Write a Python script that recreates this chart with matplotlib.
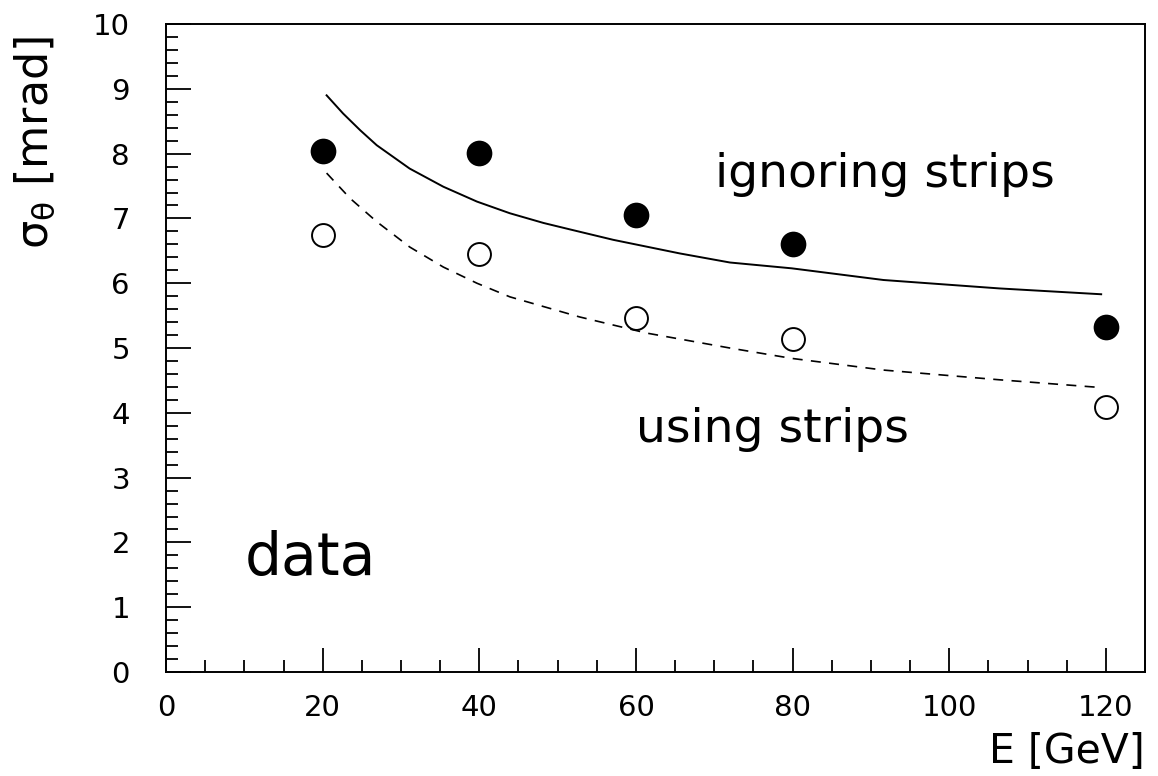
import matplotlib
matplotlib.use("Agg")
import matplotlib.pyplot as plt
from matplotlib.ticker import MultipleLocator

plt.rcParams['font.family'] = ['DejaVu Sans']

# measured points
energy = [20, 40, 60, 80, 120]
sigma_ignoring = [8.04, 8.01, 7.05, 6.60, 5.33]
sigma_using = [6.74, 6.45, 5.47, 5.14, 4.09]

# curves
curve_ign_E = [20.5, 22.6, 24.8, 26.9, 31.1, 35.4, 39.7, 43.9, 48.2, 51.6, 57.1, 65.6,
               72.0, 79.9, 91.6, 106.4, 119.4]
curve_ign_s = [8.90, 8.62, 8.36, 8.13, 7.77, 7.49, 7.26, 7.08, 6.93, 6.83, 6.67, 6.46,
               6.32, 6.23, 6.05, 5.92, 5.83]
curve_use_E = [20.5, 23.5, 26.9, 31.1, 35.4, 39.7, 43.9, 48.2, 52.8, 61.4, 72.0, 79.9,
               91.6, 106.4, 119.4]
curve_use_s = [7.70, 7.31, 6.95, 6.56, 6.25, 6.00, 5.79, 5.64, 5.48, 5.23, 5.00, 4.84,
               4.66, 4.51, 4.39]

xticks = [0, 20, 40, 60, 80, 100, 120]
yticks = list(range(0, 11))

fig = plt.figure(figsize=(11.58, 7.76), dpi=100)
ax = fig.add_axes([0.1434, 0.134, 0.8454, 0.835])

ax.plot(curve_ign_E, curve_ign_s, color='black', lw=1.4, solid_joinstyle='round')
ax.plot(curve_use_E, curve_use_s, color='black', lw=1.2, linestyle=(0, (6, 5)))
ax.plot(energy, sigma_ignoring, 'o', color='black', markersize=18.5, markeredgewidth=0)
ax.plot(energy, sigma_using, 'o', markerfacecolor='white', markeredgecolor='black',
        markersize=16.5, markeredgewidth=1.4)

ax.set_xlim(0, 125)
ax.set_ylim(0, 10)
ax.set_xticks(xticks)
ax.set_yticks(yticks)
ax.xaxis.set_minor_locator(MultipleLocator(5))
ax.yaxis.set_minor_locator(MultipleLocator(0.2))
ax.tick_params(which='both', direction='in', top=False, right=False, width=1.3, color='black')
ax.tick_params(which='major', axis='y', length=18, pad=26, labelsize=21)
ax.tick_params(which='minor', axis='y', length=8.5)
ax.tick_params(which='major', axis='x', length=17, pad=16, labelsize=21)
ax.tick_params(which='minor', axis='x', length=8.5)
for sp in ax.spines.values():
    sp.set_linewidth(1.4)

ax.text(70.1, 7.49, 'ignoring strips', fontsize=34, va='baseline', ha='left')
ax.text(60.0, 3.55, 'using strips', fontsize=34, va='baseline', ha='left')
ax.text(10.1, 1.50, 'data', fontsize=42, va='baseline', ha='left')

ax.text(-0.134, 0.818, r'$\mathregular{\sigma_{\theta}}$ [mrad]', transform=ax.transAxes,
        rotation=90, fontsize=32, va='center', ha='center')
ax.text(1.0, -0.123, 'E [GeV]', transform=ax.transAxes, fontsize=29.5, va='center', ha='right')

fig.savefig('out.png', dpi=100)
